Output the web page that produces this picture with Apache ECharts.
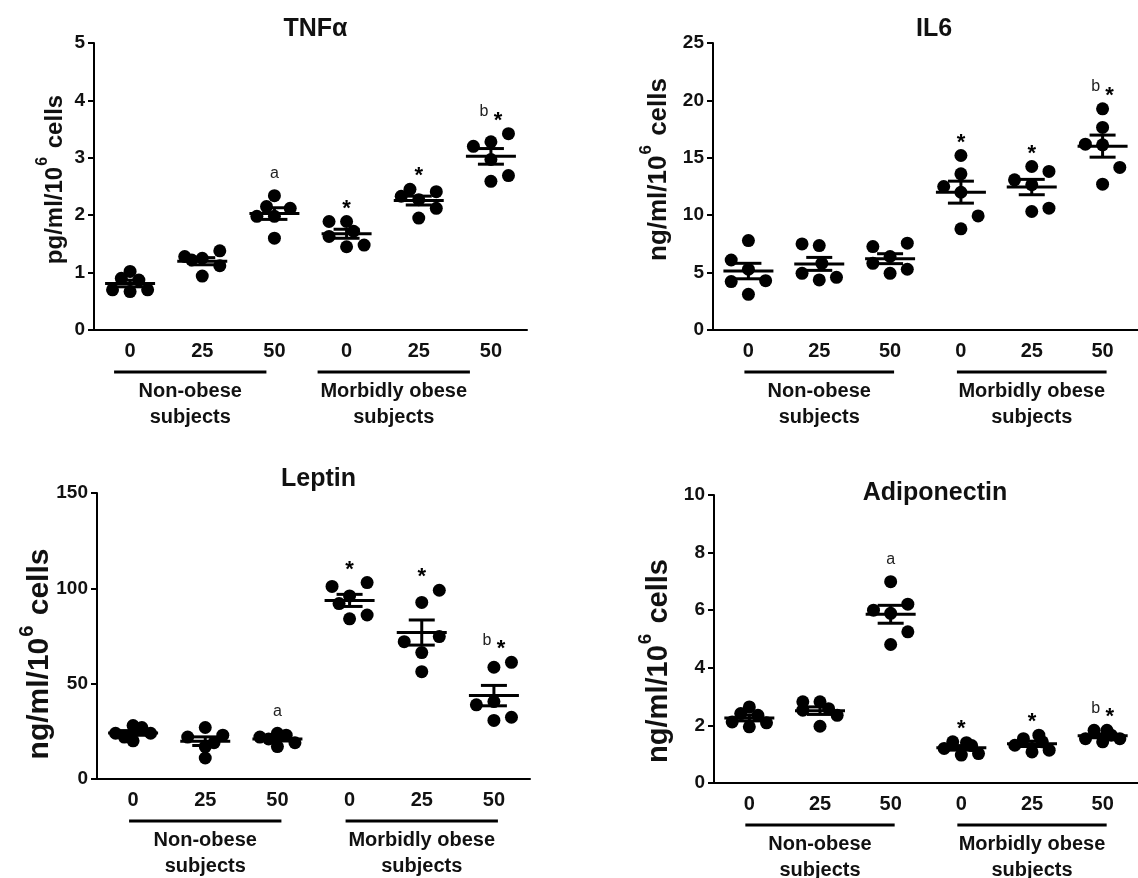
<!DOCTYPE html>
<html><head><meta charset="utf-8">
<script src="https://cdn.jsdelivr.net/npm/echarts@6/dist/echarts.min.js"></script>
<style>html,body{margin:0;padding:0;background:#fff}#c{width:1138px;height:878px}</style>
</head><body><div id="c"></div><script>
// ---- data ----
const concLabels = ['0', '25', '50', '0', '25', '50'];
const groupNames = ['Non-obese\nsubjects', 'Morbidly obese\nsubjects'];
const groupSpans = [[0, 2], [3, 5]];

const tnfValues = [
  [0.70, 1.02, 0.90, 0.87, 0.67, 0.70],
  [1.28, 1.25, 1.38, 1.12, 0.94, 1.22],
  [2.34, 2.15, 2.12, 1.98, 1.98, 1.60],
  [1.89, 1.89, 1.63, 1.45, 1.48, 1.72],
  [2.45, 2.41, 2.33, 2.12, 1.95, 2.27],
  [3.42, 3.28, 3.20, 2.59, 2.69, 2.97]
];
const tnfJitter = [
  [-1, 0, -0.5, 0.5, 0, 1],
  [-1, 0, 1, 1, 0, -0.6],
  [0, -0.45, 0.9, -1, 0, 0],
  [-1, 0, -1, 0, 1, 0.4],
  [-0.5, 1, -1, 1, 0, 0],
  [1, 0, -1, 0, 1, 0]
];
const tnfMarks = ['', '', 'a', '*', '*', 'b*'];

const il6Values = [
  [7.79, 6.10, 5.29, 4.22, 4.30, 3.11],
  [7.50, 7.35, 4.94, 4.36, 4.59, 5.81],
  [7.27, 7.56, 5.81, 4.94, 5.29, 6.40],
  [15.2, 13.6, 12.5, 12.0, 9.94, 8.81],
  [14.24, 13.81, 13.08, 12.65, 10.32, 10.61],
  [19.27, 17.65, 16.19, 16.13, 14.16, 12.70]
];
const il6Jitter = [
  [0, -1, 0, -1, 1, 0],
  [-1, 0, -1, 0, 1, 0.15],
  [-1, 1, -1, 0, 1, 0],
  [0, 0, -1, 0, 1, 0],
  [0, 1, -1, 0, 0, 1],
  [0, 0, -1, 0, 1, 0]
];
const il6Marks = ['', '', '', '*', '*', 'b*'];

const leptinValues = [
  [24, 28, 27, 20, 24, 22],
  [22, 27, 23, 11, 17, 19],
  [22, 24, 23, 19, 17, 21],
  [101, 103, 96, 92, 84, 86],
  [99, 92.6, 74.7, 72, 66.3, 56.3],
  [61.2, 58.6, 38.9, 40.6, 30.7, 32.4]
];
const leptinJitter = [
  [-1, 0, 0.5, 0, 1, -0.5],
  [-1, 0, 1, 0, 0, 0.5],
  [-1, 0, 0.5, 1, 0, -0.5],
  [-1, 1, 0, -0.6, 0, 1],
  [1, 0, 1, -1, 0, 0],
  [1, 0, -1, 0, 0, 1]
];
const leptinMarks = ['', '', 'a', '*', '*', 'b*'];

const adipoValues = [
  [2.64, 2.41, 2.35, 2.12, 2.09, 1.95],
  [2.82, 2.82, 2.58, 2.53, 2.35, 1.97],
  [6.99, 6.21, 6.00, 5.89, 5.25, 4.81],
  [1.43, 1.40, 1.20, 1.30, 0.97, 1.02],
  [1.54, 1.66, 1.31, 1.43, 1.08, 1.14],
  [1.83, 1.83, 1.54, 1.43, 1.54, 1.66]
];
const adipoJitter = [
  [0, -0.5, 0.5, -1, 1, 0],
  [-1, 0, 0.5, -1, 1, 0],
  [0, 1, -1, 0, 1, 0],
  [-0.5, 0.3, -1, 0.6, 0, 1],
  [-0.5, 0.4, -1, 0.6, 0, 1],
  [-0.5, 0.25, -1, 0, 1, 0.5]
];
const adipoMarks = ['', '', 'a', '*', '*', 'b*'];

// ---- layout ----
const FONT = 'Liberation Sans, Arial, sans-serif';
const panels = [
  { title: 'TNFα', unit: 'pg', values: tnfValues, jitter: tnfJitter, marks: tnfMarks, yMax: 5, yInterval: 1,
    grid: { left: 94, top: 43, width: 433, height: 287 }, titleTop: 12,
    nameGap: 27, nameFont: 24, namePad: [0, 0, 0, 14], groupShift: [-12, -25] },
  { title: 'IL6', unit: 'ng', values: il6Values, jitter: il6Jitter, marks: il6Marks, yMax: 25, yInterval: 5,
    grid: { left: 713, top: 43, width: 432, height: 287 }, titleTop: 12,
    nameGap: 41, nameFont: 26, namePad: [0, 0, 0, 34], groupShift: [0, 0] },
  { title: 'Leptin', unit: 'ng', values: leptinValues, jitter: leptinJitter, marks: leptinMarks, yMax: 150, yInterval: 50,
    grid: { left: 97, top: 493, width: 433, height: 286 }, titleTop: 462,
    nameGap: 42, nameFont: 30, namePad: [0, 36, 0, 0], groupShift: [0, 0] },
  { title: 'Adiponectin', unit: 'ng', values: adipoValues, jitter: adipoJitter, marks: adipoMarks, yMax: 10, yInterval: 2,
    grid: { left: 714, top: 495, width: 432, height: 288 }, titleTop: 476,
    nameGap: 41, nameFont: 29, namePad: [0, 44, 0, 0], groupShift: [0, 0] }
];

const STEP = 17.5 / 72; // one dot step, in category units

function mean(a) { return a.reduce((s, v) => s + v, 0) / a.length; }
function sem(a) {
  const m = mean(a);
  const sd = Math.sqrt(a.reduce((s, v) => s + (v - m) * (v - m), 0) / (a.length - 1));
  return sd / Math.sqrt(a.length);
}

const option = {
  animation: false,
  backgroundColor: '#fff',
  title: [], grid: [], xAxis: [], yAxis: [], series: []
};

panels.forEach((p, k) => {
  const g = p.grid;
  option.grid.push({ left: g.left, top: g.top, width: g.width, height: g.height });
  option.title.push({
    text: p.title, left: g.left + g.width / 2, top: p.titleTop, textAlign: 'center',
    textStyle: { fontFamily: FONT, fontWeight: 'bold', fontSize: 25, color: '#111' }
  });
  option.xAxis.push({
    type: 'category', gridIndex: k, data: concLabels, boundaryGap: true,
    axisLine: { onZero: false, lineStyle: { color: '#000', width: 2 } },
    axisTick: { alignWithLabel: true, length: 7, lineStyle: { color: '#000', width: 2 } },
    axisLabel: { fontFamily: FONT, fontWeight: 'bold', fontSize: 20, color: '#111', margin: 11 },
    splitLine: { show: false }
  });
  option.xAxis.push({ type: 'value', gridIndex: k, min: -0.5, max: 5.5, show: false });
  option.yAxis.push({
    type: 'value', gridIndex: k, min: 0, max: p.yMax, interval: p.yInterval,
    axisLine: { show: true, onZero: false, lineStyle: { color: '#000', width: 2 } },
    axisTick: { show: true, length: 6, lineStyle: { color: '#000', width: 2 } },
    axisLabel: { fontFamily: FONT, fontWeight: 'bold', fontSize: 19, color: '#111', margin: 9 },
    splitLine: { show: false },
    name: '{t|' + p.unit + '/ml/10}{s|6}{t| cells}',
    nameLocation: 'middle', nameGap: p.nameGap, nameMoveOverlap: false,
    nameTextStyle: {
      padding: p.namePad,
      rich: {
        t: { fontFamily: FONT, fontWeight: 'bold', fontSize: p.nameFont, color: '#111', verticalAlign: 'bottom', lineHeight: p.nameFont + 8 },
        s: { fontFamily: FONT, fontWeight: 'bold', fontSize: Math.round(p.nameFont * 0.66), color: '#111', verticalAlign: 'top', lineHeight: p.nameFont + 8, padding: [0, 2, 0, 1] }
      }
    }
  });

  const xi = 2 * k + 1;
  // dots
  const pts = [];
  p.values.forEach((grp, gi) => grp.forEach((v, j) => pts.push([gi + p.jitter[gi][j] * STEP, v])));
  option.series.push({
    type: 'scatter', xAxisIndex: xi, yAxisIndex: k, data: pts, symbolSize: 13,
    itemStyle: { color: '#000', opacity: 1 }, z: 2, silent: true
  });
  // mean ± SEM
  option.series.push({
    type: 'custom', xAxisIndex: xi, yAxisIndex: k, z: 3, silent: true,
    data: p.values.map((grp, gi) => [gi, mean(grp), sem(grp)]),
    renderItem: (params, api) => {
      const i = api.value(0), m = api.value(1), s = api.value(2);
      const c = api.coord([i, m]), hi = api.coord([i, m + s]), lo = api.coord([i, m - s]);
      const st = { stroke: '#000', lineWidth: 3 };
      return { type: 'group', children: [
        { type: 'line', shape: { x1: c[0] - 25, y1: c[1], x2: c[0] + 25, y2: c[1] }, style: st },
        { type: 'line', shape: { x1: c[0], y1: hi[1], x2: c[0], y2: lo[1] }, style: st },
        { type: 'line', shape: { x1: c[0] - 13, y1: hi[1], x2: c[0] + 13, y2: hi[1] }, style: st },
        { type: 'line', shape: { x1: c[0] - 13, y1: lo[1], x2: c[0] + 13, y2: lo[1] }, style: st }
      ] };
    }
  });
  // significance marks
  const marks = p.marks;
  option.series.push({
    type: 'custom', xAxisIndex: xi, yAxisIndex: k, z: 4, silent: true, clip: false,
    data: p.values.map((grp, gi) => [gi, Math.max(...grp)]),
    renderItem: (params, api) => {
      const mk = marks[params.dataIndex];
      if (!mk) return null;
      const c = api.coord([api.value(0), api.value(1)]);
      const letter = (txt, x) => ({ type: 'text', x: x, y: c[1] - 22,
        style: { text: txt, fontFamily: FONT, fontSize: 16, fill: '#222', align: 'center', verticalAlign: 'middle' } });
      const star = (x) => ({ type: 'text', x: x, y: c[1] - 13,
        style: { text: '*', fontFamily: FONT, fontWeight: 'bold', fontSize: 22, fill: '#000', align: 'center', verticalAlign: 'middle' } });
      const ch = [];
      if (mk === 'a') ch.push(letter('a', c[0]));
      else if (mk === '*') ch.push(star(c[0]));
      else if (mk === 'b*') { ch.push(letter('b', c[0] - 7)); ch.push(star(c[0] + 7)); }
      return { type: 'group', children: ch };
    }
  });
  // group brackets and labels
  const shift = p.groupShift;
  option.series.push({
    type: 'custom', xAxisIndex: xi, yAxisIndex: k, z: 4, silent: true, clip: false,
    data: groupSpans.map((s, gi) => [s[0], s[1], gi]),
    renderItem: (params, api) => {
      const gi = api.value(2);
      const a = api.coord([api.value(0), 0]), b = api.coord([api.value(1), 0]);
      const dx = shift[gi];
      const y = a[1] + 42;
      return { type: 'group', children: [
        { type: 'line', shape: { x1: a[0] - 4 + dx, y1: y, x2: b[0] + 4 + dx, y2: y }, style: { stroke: '#000', lineWidth: 3 } },
        { type: 'text', x: (a[0] + b[0]) / 2 + dx, y: y + 6,
          style: { text: groupNames[gi], fontFamily: FONT, fontWeight: 'bold', fontSize: 20, lineHeight: 26,
                   fill: '#111', align: 'center', verticalAlign: 'top' } }
      ] };
    }
  });
});

const chart = echarts.init(document.getElementById('c'));
chart.setOption(option);
</script></body></html>
